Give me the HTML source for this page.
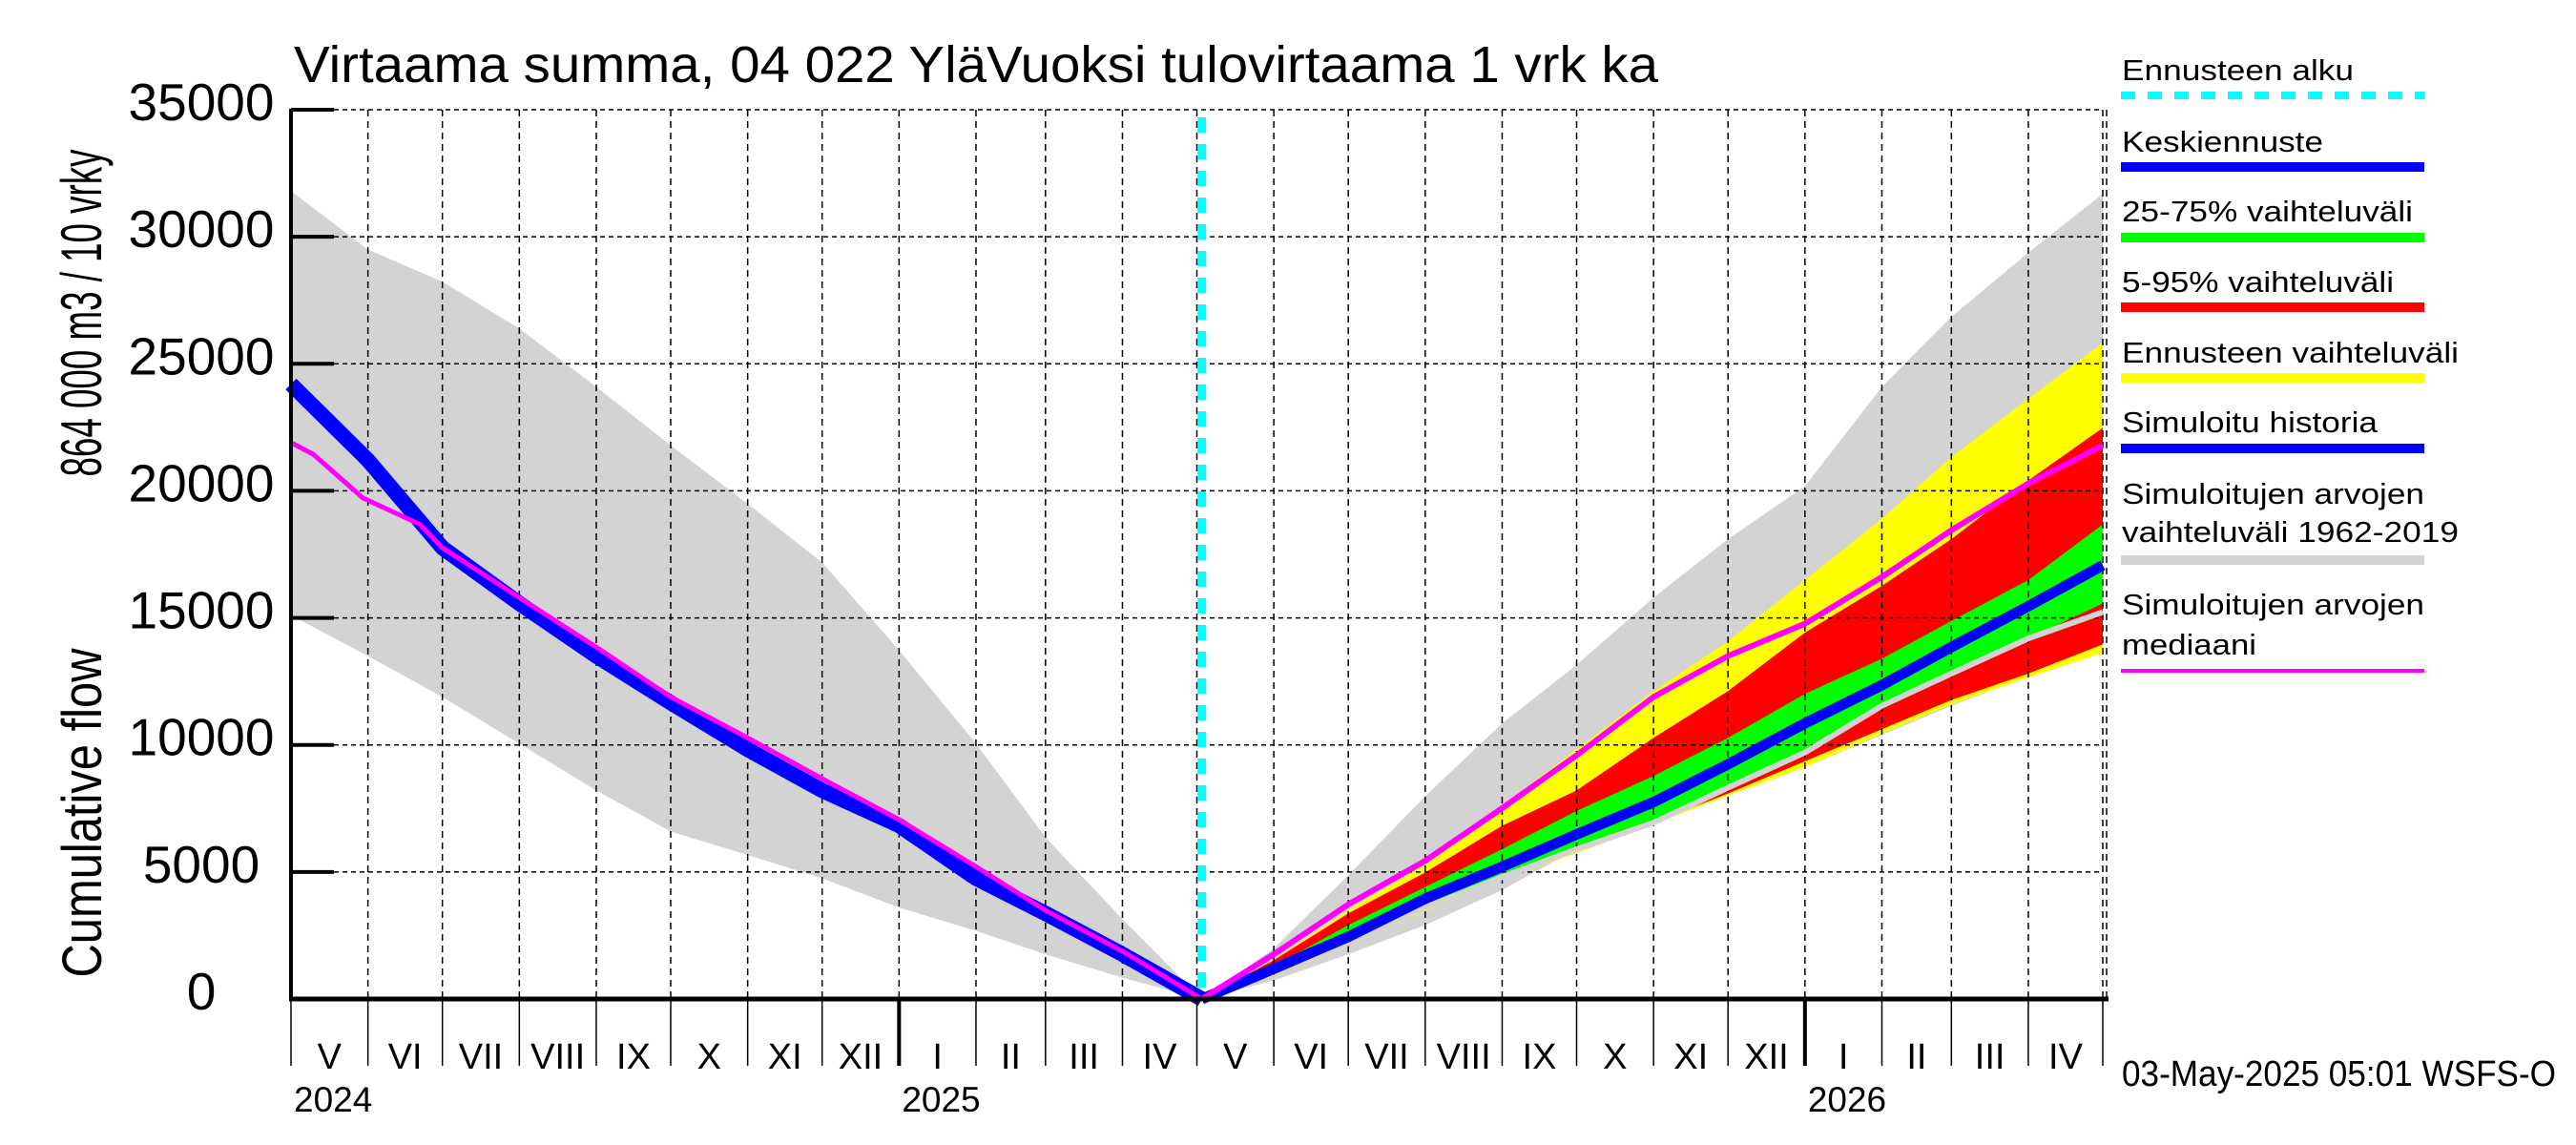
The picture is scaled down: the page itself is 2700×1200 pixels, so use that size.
<!DOCTYPE html>
<html><head><meta charset="utf-8"><style>
html,body{margin:0;padding:0;background:#fff;}
svg{display:block;font-family:"Liberation Sans",sans-serif;}
</style></head><body>
<svg id="chart" width="2700" height="1200" viewBox="0 0 2700 1200" xmlns="http://www.w3.org/2000/svg">
<rect x="0" y="0" width="2700" height="1200" fill="#fff"/>
<g id="bands"></g>
<g id="grid"></g>
<g id="lines"></g>
<g id="axes"></g>
<text x="308" y="86" font-size="54" textLength="1430" lengthAdjust="spacingAndGlyphs">Virtaama summa, 04 022 YläVuoksi tulovirtaama 1 vrk ka</text>
<text transform="translate(106,328) rotate(-90)" text-anchor="middle" font-size="60" textLength="343" lengthAdjust="spacingAndGlyphs">864 000 m3 / 10 vrky</text>
<text transform="translate(106,852) rotate(-90)" text-anchor="middle" font-size="58" textLength="345" lengthAdjust="spacingAndGlyphs">Cumulative flow</text>
<text x="2224" y="1138" font-size="38" textLength="455" lengthAdjust="spacingAndGlyphs">03-May-2025 05:01 WSFS-O</text>
<g id="legend"></g>
</svg>
<script>
// ---- data ----
const histDays = [0,31,61,92,123,153,184,214,245,276,304,335,367];
const histGrayUpper = [31800,29500,28230,26390,24090,21790,19490,17180,13730,10050,6370,3140,0];
const histGrayLower = [15110,13500,11890,10050,8210,6590,5670,4750,3600,2680,1760,840,0];
const histBlue = [24200,21210,17760,15570,13500,11660,9820,8210,6830,4750,3370,1760,0];
const magDays = [0,9,29,52,61,92,123,153,184,214,245,276,304,335,367];
const magHist = [21900,21440,19720,18680,17760,15800,13850,11890,10280,8670,7060,5210,3490,1880,0];
const fcDays = [367,396,426,457,488,518,549,579,610,641,669,700,730];
const fcGrayUpper = [0,1990,4870,7980,10850,13150,15800,18100,20180,24090,26850,29380,31690];
const fcGrayLower = [0,730,1760,2910,4290,5900,6940,8090,9130,10390,11540,12700,13730];
const fcYellowUpper = [0,1560,3500,5300,7630,9820,12120,14080,16490,18910,21330,23630,25820];
const fcYellowLower = [0,930,2080,3450,4700,5740,6880,8000,9130,10450,11600,12650,13620];
const fcRedUpper = [0,1530,3370,4980,6820,8210,10280,12120,14420,16260,18100,20410,22480];
const fcRedLower = [0,960,2110,3490,4750,5790,6940,8090,9360,10620,11770,12810,13960];
const fcGreenUpper = [0,1300,2910,4410,5900,7400,8780,10280,12010,13390,14880,16490,18680];
const fcGreenLower = [0,1070,2220,3720,4870,6020,7060,8320,9820,11540,12810,14190,15570];
const fcBlue = [0,1190,2450,3950,5210,6480,7750,9240,10850,12350,13850,15460,17070];
const fcMedian = [0,1070,2200,3600,4800,5900,6940,8320,9700,11540,12810,14190,15230];
const fcMagenta = [0,1760,3720,5440,7510,9590,11890,13500,14770,16610,18450,20290,21790];
const yTicks = [0,5000,10000,15000,20000,25000,30000,35000];
const yTickLabels = ["0","5000","10000","15000","20000","25000","30000","35000"];
const monthDays = [0,31,61,92,123,153,184,214,245,276,304,335,365,396,426,457,488,518,549,579,610,641,669,700,730];
const monthLabels = ["V","VI","VII","VIII","IX","X","XI","XII","I","II","III","IV","V","VI","VII","VIII","IX","X","XI","XII","I","II","III","IV"];
const yearDays = [0,245,610];
const yearLabels = ["2024","2025","2026"];
const forecastDay = 367;

// ---- axes functions ----
const X0=305, X1=2204, Y0=1047, YTOP=115;
function xs(d){return X0 + d*(X1-X0)/730;}
function ys(v){return Y0 - v*(Y0-YTOP)/35000;}
const NS="http://www.w3.org/2000/svg";
function mk(tag,parent){const e=document.createElementNS(NS,tag);parent.appendChild(e);return e;}
function pts(days,vals){return days.map((d,i)=>xs(d).toFixed(1)+","+ys(vals[i]).toFixed(1));}
function band(parent,days,up,lo,color,name){
  const p=mk('polygon',parent);
  
  
  const a=pts(days,up), b=pts(days,lo).reverse();
  p.setAttribute('points',a.concat(b).join(' '));
  p.setAttribute('fill',color);
  return p;
}
function line(parent,days,vals,color,w,name){
  const p=mk('polyline',parent);
  
  
  p.setAttribute('points',pts(days,vals).join(' '));
  p.setAttribute('fill','none');p.setAttribute('stroke',color);p.setAttribute('stroke-width',w);
  p.setAttribute('stroke-linejoin','round');
  return p;
}
const bands=document.getElementById('bands'), grid=document.getElementById('grid'), lines=document.getElementById('lines'), axes=document.getElementById('axes');
band(bands,histDays,histGrayUpper,histGrayLower,'#d3d3d3','history-range-band');
band(bands,fcDays,fcGrayUpper,fcGrayLower,'#d3d3d3','forecast-historic-range-band');
band(bands,fcDays,fcYellowUpper,fcYellowLower,'#ffff00','forecast-range-band');
band(bands,fcDays,fcRedUpper,fcRedLower,'#ff0000','band-5-95');
band(bands,fcDays,fcGreenUpper,fcGreenLower,'#00ff00','band-25-75');

// grid
for(let i=1;i<yTicks.length;i++){
  const l=mk('line',grid);
  
  
  l.setAttribute('x1',X0);l.setAttribute('x2',X1);l.setAttribute('y1',ys(yTicks[i]));l.setAttribute('y2',ys(yTicks[i]));
  l.setAttribute('stroke','#000');l.setAttribute('stroke-width','1.5');l.setAttribute('stroke-dasharray','5,4');
}
for(let i=1;i<monthDays.length;i++){
  const l=mk('line',grid);
  
  
  l.setAttribute('x1',xs(monthDays[i]));l.setAttribute('x2',xs(monthDays[i]));l.setAttribute('y1',YTOP);l.setAttribute('y2',Y0);
  l.setAttribute('stroke','#000');l.setAttribute('stroke-width','1.5');l.setAttribute('stroke-dasharray','7,5');
}
{const l=mk('line',grid);
 
 
 l.setAttribute('x1',X1+4);l.setAttribute('x2',X1+4);l.setAttribute('y1',YTOP);l.setAttribute('y2',Y0);
 l.setAttribute('stroke','#000');l.setAttribute('stroke-width','1.5');l.setAttribute('stroke-dasharray','7,5');}

// lines
line(lines,fcDays,fcMedian,'#d3d3d3',6,'simulated-median-forecast');
line(lines,fcDays,fcBlue,'#0000ff',11,'mean-forecast-line');
line(lines,histDays,histBlue,'#0000ff',16,'simulated-history-line');
line(lines,magDays,magHist,'#ff00ff',5,'median-line-history');
line(lines,fcDays,fcMagenta,'#ff00ff',6,'median-line-forecast');
{const l=mk('line',lines);
 
 
 l.setAttribute('x1',xs(forecastDay));l.setAttribute('x2',xs(forecastDay));l.setAttribute('y1',YTOP+8);l.setAttribute('y2',Y0);
 l.setAttribute('stroke','#00ffff');l.setAttribute('stroke-width','9');l.setAttribute('stroke-dasharray','16,12');}

// axes
function seg(x1,y1,x2,y2,w,name){const l=mk('line',axes);
 
 
 l.setAttribute('x1',x1);l.setAttribute('y1',y1);l.setAttribute('x2',x2);l.setAttribute('y2',y2);l.setAttribute('stroke','#000');l.setAttribute('stroke-width',w);}
seg(X0,YTOP-1,X0,Y0+2,4,'y-axis-line');
seg(X0-2,Y0,X1+6,Y0,5,'x-axis-line');
yTicks.forEach((v,i)=>{
  seg(X0,ys(v),X0+45,ys(v),4,'y-tick');
  const t=mk('text',axes);
  
  
  t.setAttribute('x',211);t.setAttribute('y',ys(v)+11);t.setAttribute('text-anchor','middle');t.setAttribute('font-size','55');
  t.textContent=yTickLabels[i];
});
monthDays.forEach((d,i)=>{
  const isYear=yearDays.indexOf(d)>0;
  seg(xs(d),Y0,xs(d),1117,isYear?4:1.5,'month-tick');
  if(i<monthLabels.length){
    const t=mk('text',axes);
    
    
    t.setAttribute('x',(xs(d)+xs(monthDays[i+1]))/2);t.setAttribute('y',1120);t.setAttribute('text-anchor','middle');t.setAttribute('font-size','38');
    t.textContent=monthLabels[i];
  }
});
yearDays.forEach((d,i)=>{
  const t=mk('text',axes);
  
  
  t.setAttribute('x',xs(d)+3);t.setAttribute('y',1165);t.setAttribute('font-size','37');
  t.textContent=yearLabels[i];
});

// legend
const legendTexts=[["Ennusteen alku"],["Keskiennuste"],["25-75% vaihteluväli"],["5-95% vaihteluväli"],["Ennusteen vaihteluväli"],["Simuloitu historia"],["Simuloitujen arvojen","vaihteluväli 1962-2019"],["Simuloitujen arvojen","mediaani"]];
const legendColors=['#00ffff','#0000ff','#00ff00','#ff0000','#ffff00','#0000ff','#d3d3d3','#ff00ff'];
const legendLens=[[243],[211],[305],[285],[353],[268],[317,353],[317,141]];
const legendBase=[[84],[159],[232],[306],[380],[453],[528,568],[644,686]];
const legendLineY=[100,175,249,322,396,470,587,703];
const legendLineW=[8,10,10,10,10,10,10,4];
const leg=document.getElementById('legend');
legendTexts.forEach((arr,i)=>{
  arr.forEach((s,j)=>{
    const t=mk('text',leg);
    
    
    t.setAttribute('x',2224);t.setAttribute('y',legendBase[i][j]);t.setAttribute('font-size','31');
    t.setAttribute('textLength',legendLens[i][j]);t.setAttribute('lengthAdjust','spacingAndGlyphs');
    t.textContent=s;
  });
  const l=mk('line',leg);
  
  
  l.setAttribute('x1',2223);l.setAttribute('x2',2541);l.setAttribute('y1',legendLineY[i]);l.setAttribute('y2',legendLineY[i]);
  l.setAttribute('stroke',legendColors[i]);l.setAttribute('stroke-width',legendLineW[i]);
  if(i===0) l.setAttribute('stroke-dasharray','15,13');
});
</script>
</body></html>
